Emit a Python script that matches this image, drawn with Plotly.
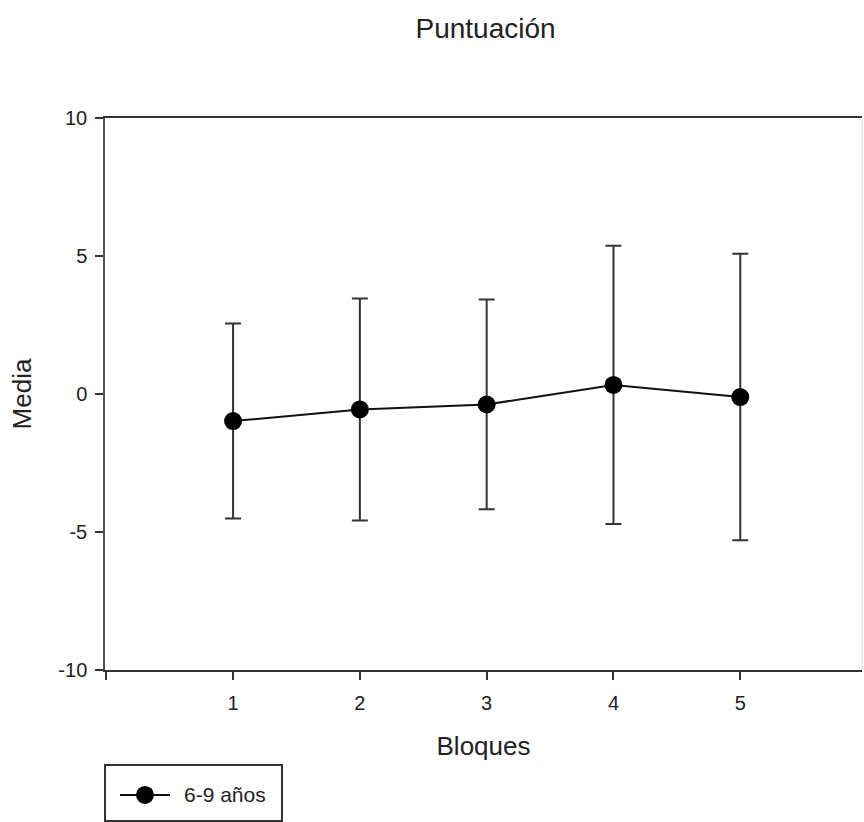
import plotly.graph_objects as go

bloques = [1, 2, 3, 4, 5]
media = [-0.98, -0.56, -0.38, 0.33, -0.11]
error = [3.53, 4.02, 3.80, 5.04, 5.19]
serie = "6-9 años"
xtick_vals = [0, 1, 2, 3, 4, 5]
xtick_text = ["", "1", "2", "3", "4", "5"]
ytick_vals = [-10, -5, 0, 5, 10]
ytick_text = ["-10", "-5", "0", "5", "10"]

FONT = "Liberation Sans, Arial, sans-serif"
INK = "#222222"

fig = go.Figure()
fig.add_trace(go.Scatter(
    x=bloques, y=media, name=serie, mode="lines+markers", showlegend=False,
    line=dict(color="#111111", width=2),
    marker=dict(color="black", size=18),
    error_y=dict(type="data", array=error, visible=True,
                 color="#333333", thickness=2, width=8),
))

fig.update_layout(
    width=864, height=822,
    margin=dict(l=105, r=2, t=118, b=152),
    paper_bgcolor="white", plot_bgcolor="white",
    font=dict(family=FONT, color=INK, size=20),
    title=dict(text="Puntuación", x=0.562, xanchor="center", y=0.966, yanchor="middle",
               font=dict(size=28, family=FONT, color=INK)),
    showlegend=False,
    xaxis=dict(range=[-0.01, 5.96], tickvals=xtick_vals, ticktext=xtick_text,
               tickfont=dict(size=20, family=FONT, color=INK), ticklabelstandoff=6,
               showgrid=False, zeroline=False, showline=True, linecolor="#333333",
               linewidth=2, mirror=True, ticks="outside", ticklen=8, tickwidth=2,
               tickcolor="#333333",
               title=dict(text="Bloques", font=dict(size=26, family=FONT, color=INK), standoff=24)),
    yaxis=dict(range=[-10, 10], tickvals=ytick_vals, ticktext=ytick_text,
               tickfont=dict(size=20, family=FONT, color=INK), ticklabelstandoff=4,
               showgrid=False, zeroline=False, showline=True, linecolor="#555555",
               linewidth=1.5, ticks="outside", ticklen=8, tickwidth=1.5,
               tickcolor="#333333",
               title=dict(text="Media", font=dict(size=26, family=FONT, color=INK), standoff=19)),
)
# right frame edge (faint)
fig.add_shape(type="line", xref="paper", yref="paper", x0=1, x1=1, y0=0, y1=1,
              line=dict(color="#dddddd", width=1))

# legend box drawn below the plot
fig.add_shape(type="rect", xref="paper", yref="paper", x0=0, x1=0.2338, y0=-0.2736, y1=-0.1721,
              line=dict(color="#333333", width=2), fillcolor="white")
fig.add_shape(type="line", xref="paper", yref="paper", x0=0.0198, x1=0.0859, y0=-0.2264, y1=-0.2264,
              line=dict(color="#111111", width=2))
fig.add_shape(type="circle", xref="paper", yref="paper", xsizemode="pixel", ysizemode="pixel",
              xanchor=0.0528, yanchor=-0.2264, x0=-9, x1=9, y0=-9, y1=9,
              line=dict(color="black", width=0), fillcolor="black")
fig.add_annotation(xref="paper", yref="paper", x=0.1017, y=-0.2264, xanchor="left", yanchor="middle",
                   text=serie, showarrow=False, font=dict(size=21, family=FONT, color=INK))

fig.write_html("out.html")
